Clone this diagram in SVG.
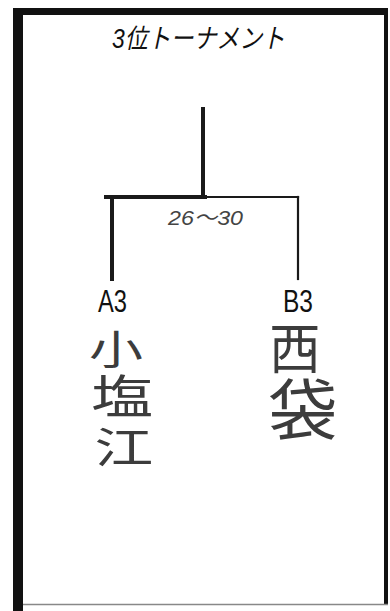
<svg xmlns="http://www.w3.org/2000/svg" width="390" height="611" viewBox="0 0 390 611">
<style>
.frame{fill:none;stroke:#111;stroke-linecap:butt}
.line{fill:none;stroke:#1a1a1a;stroke-linecap:square}
.lbl{font-family:"Liberation Sans","Noto Sans CJK JP",sans-serif;fill:#111}
.hand{font-family:"Noto Sans CJK JP",sans-serif;fill:#3c3c3c;text-anchor:middle;dominant-baseline:central}
</style>
<rect width="390" height="611" fill="#fff"/>
<g id="frame">
<path class="frame" d="M18 8 V611" stroke-width="10"/>
<path class="frame" d="M13 11.5 H388" stroke-width="7"/>
<path class="frame" d="M386 8 V604" stroke-width="4"/>
<path d="M23 604.5 H388" stroke="#888" stroke-width="1.5" fill="none"/>
</g>
<g id="title">
<text class="lbl" x="112" y="48" font-size="27" font-style="italic" textLength="173" lengthAdjust="spacingAndGlyphs">3位トーナメント</text>
</g>
<g id="connectors">
<path class="line" d="M203 109 V197" stroke-width="4"/>
<path class="line" d="M106 197 H205" stroke-width="4"/>
<path class="line" d="M205 197 H298" stroke-width="2.2"/>
<path class="line" d="M112 197 V279" stroke-width="4"/>
<path class="line" d="M298 197 V279" stroke-width="2.2"/>
</g>
<g id="match-label">
<text class="lbl" x="168" y="225" font-size="21" font-style="italic" style="fill:#444" textLength="75" lengthAdjust="spacingAndGlyphs">26～30</text>
</g>
<g id="node-a3">
<text class="lbl" x="98" y="312" font-size="31" textLength="29" lengthAdjust="spacingAndGlyphs">A3</text>
<text class="hand" transform="translate(116 347) scale(1.35 1)" font-size="40">小</text>
<text class="hand" transform="translate(122 393) scale(1.35 1)" font-size="46">塩</text>
<text class="hand" transform="translate(124 445) scale(1.4 1)" font-size="42">江</text>
</g>
<g id="node-b3">
<text class="lbl" x="283" y="312" font-size="31" textLength="30" lengthAdjust="spacingAndGlyphs">B3</text>
<text class="hand" transform="translate(295 345) scale(0.95 1)" font-size="54">西</text>
<text class="hand" transform="translate(303 405) scale(1.05 1)" font-size="66">袋</text>
</g>
</svg>
